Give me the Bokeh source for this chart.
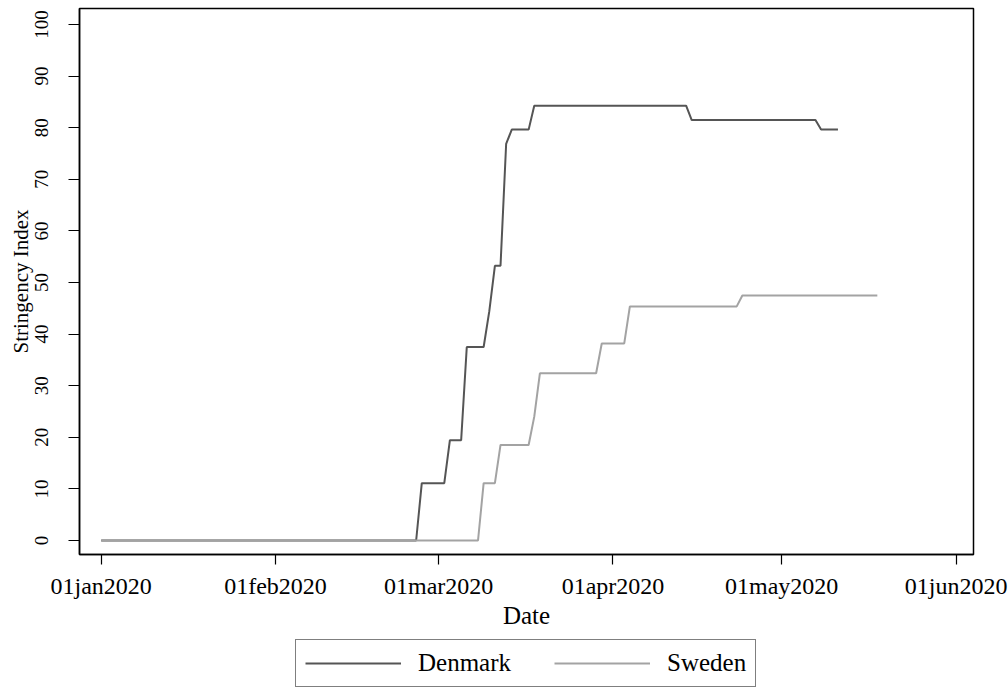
import pandas as pd
from bokeh.plotting import figure
from bokeh.layouts import column
from bokeh.models import ColumnDataSource, FixedTicker, Legend, LegendItem, Range1d
from bokeh.embed import file_html
from bokeh.resources import INLINE

# ---- data (vertices of the step lines) ----
dk_dates = ["2020-01-01", "2020-02-26", "2020-02-27", "2020-03-02", "2020-03-03",
            "2020-03-05", "2020-03-06", "2020-03-09", "2020-03-10", "2020-03-11",
            "2020-03-12", "2020-03-13", "2020-03-14", "2020-03-17", "2020-03-18",
            "2020-04-14", "2020-04-15", "2020-05-07", "2020-05-08", "2020-05-11"]
dk_values = [0, 0, 11.11, 11.11, 19.44,
             19.44, 37.5, 37.5, 44.4, 53.24,
             53.24, 76.85, 79.63, 79.63, 84.26,
             84.26, 81.48, 81.48, 79.63, 79.63]

se_dates = ["2020-01-01", "2020-03-08", "2020-03-09", "2020-03-11", "2020-03-12",
            "2020-03-17", "2020-03-18", "2020-03-19", "2020-03-29", "2020-03-30",
            "2020-04-03", "2020-04-04", "2020-04-23", "2020-04-24", "2020-05-18"]
se_values = [0, 0, 11.11, 11.11, 18.52,
             18.52, 24.0, 32.41, 32.41, 38.19,
             38.19, 45.37, 45.37, 47.49, 47.49]

series_names = ["Denmark", "Sweden"]
series_colors = ["#555555", "#a3a3a3"]

x_tick_dates = ["2020-01-01", "2020-02-01", "2020-03-01", "2020-04-01", "2020-05-01", "2020-06-01"]
x_tick_labels = ["01jan2020", "01feb2020", "01mar2020", "01apr2020", "01may2020", "01jun2020"]
y_ticks = [0, 10, 20, 30, 40, 50, 60, 70, 80, 90, 100]

FONT = "Liberation Serif"
DAY = 86400000

def to_ms(d):
    return int(pd.Timestamp(d).value // 10**6)

dk_src = ColumnDataSource(dict(x=pd.to_datetime(dk_dates), y=dk_values))
se_src = ColumnDataSource(dict(x=pd.to_datetime(se_dates), y=se_values))

t0 = to_ms("2020-01-01")
xr = Range1d(t0 - 3.86 * DAY, t0 + 155.1 * DAY)

p = figure(frame_width=894, frame_height=546, x_axis_type="datetime",
           output_backend="svg", toolbar_location=None,
           x_range=xr, y_range=Range1d(-2.71, 103.1),
           min_border_left=79, min_border_right=35, min_border_top=8,
           min_border_bottom=0)

p.background_fill_color = "white"
p.border_fill_color = "white"
p.outline_line_color = "black"
p.outline_line_width = 1.5
p.grid.visible = False

p.line("x", "y", source=dk_src, line_color=series_colors[0], line_width=2)
p.line("x", "y", source=se_src, line_color=series_colors[1], line_width=2)

tick_ms = [to_ms(d) for d in x_tick_dates]
xa = p.xaxis[0]
xa.ticker = FixedTicker(ticks=tick_ms)
xa.major_label_overrides = {ms: lab for ms, lab in zip(tick_ms, x_tick_labels)}
xa.axis_label = "Date"

ya = p.yaxis[0]
ya.ticker = FixedTicker(ticks=y_ticks)
ya.axis_label = "Stringency Index"
ya.major_label_orientation = "vertical"

for ax in (xa, ya):
    ax.axis_line_color = "black"
    ax.axis_line_width = 1.5
    ax.major_tick_in = 0
    ax.major_tick_line_color = "black"
    ax.major_tick_line_width = 1.2
    ax.minor_tick_line_color = None
    ax.major_label_text_font = FONT
    ax.major_label_text_color = "black"
    ax.axis_label_text_font = FONT
    ax.axis_label_text_font_style = "normal"
    ax.axis_label_text_color = "black"

xa.major_tick_out = 10
xa.major_label_text_font_size = "24px"
xa.major_label_standoff = 8
xa.axis_label_text_font_size = "25px"
xa.axis_label_standoff = 0

ya.major_tick_out = 11
ya.major_label_text_font_size = "19px"
ya.major_label_standoff = 20
ya.axis_label_text_font_size = "21px"
ya.axis_label_standoff = 0

# ---- legend strip below the chart (series drawn out of view, legend only) ----
lg = figure(width=1008, height=62, x_axis_type="datetime",
            output_backend="svg", toolbar_location=None,
            x_range=xr, y_range=Range1d(1000, 1001),
            x_axis_location=None, y_axis_location=None,
            min_border_left=0, min_border_right=0, min_border_top=0, min_border_bottom=0)
lg.outline_line_color = None
lg.grid.visible = False
lg.background_fill_color = "white"
lg.border_fill_color = "white"
l_dk = lg.line("x", "y", source=dk_src, line_color=series_colors[0], line_width=2)
l_se = lg.line("x", "y", source=se_src, line_color=series_colors[1], line_width=2)

legend = Legend(items=[LegendItem(label=series_names[0], renderers=[l_dk]),
                       LegendItem(label=series_names[1], renderers=[l_se])],
                orientation="horizontal", location=(216, 6),
                border_line_color="black", border_line_width=1.2,
                background_fill_color="white",
                glyph_width=96, glyph_height=26, label_standoff=17, spacing=43,
                padding=9, margin=0,
                label_text_font=FONT, label_text_font_size="25px",
                label_text_color="black")
lg.add_layout(legend)

layout = column(p, lg, spacing=0)
open("out.html", "w").write(file_html(layout, INLINE))
